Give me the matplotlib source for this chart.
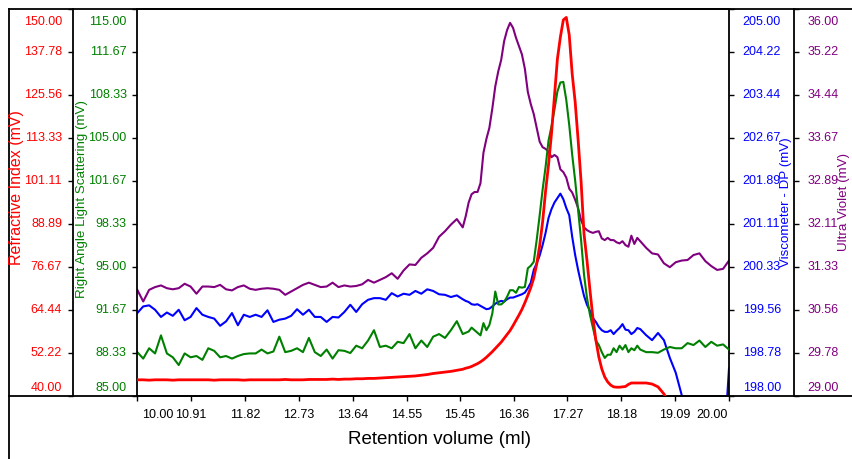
import numpy as np
import matplotlib
matplotlib.use("Agg")
import matplotlib.pyplot as plt
from matplotlib.transforms import ScaledTranslation
from matplotlib.lines import Line2D

plt.rcParams['font.family'] = ['Liberation Sans', 'DejaVu Sans']

# ---------------- data ----------------
x_seg1 = np.linspace(10.0, 15.5, 56)
x_seg2 = np.linspace(15.55, 18.45, 59)
x_seg3 = np.linspace(18.5, 20.0, 16)

red_1 = [44.6, 44.6, 44.5, 44.6, 44.6, 44.6, 44.5, 44.6, 44.6, 44.6,
         44.6, 44.6, 44.6, 44.5, 44.6, 44.6, 44.6, 44.6, 44.5, 44.6,
         44.6, 44.6, 44.6, 44.6, 44.6, 44.7, 44.6, 44.6, 44.6, 44.7,
         44.7, 44.7, 44.7, 44.8, 44.7, 44.8, 44.8, 44.9, 44.9, 45.0,
         45.0, 45.1, 45.2, 45.3, 45.4, 45.5, 45.6, 45.7, 45.9, 46.1,
         46.4, 46.6, 46.8, 47.0, 47.3, 47.6]
red_2 = [47.9, 48.1, 48.4, 48.8, 49.2, 49.7, 50.3, 51.0, 51.8,
         52.6, 53.5, 54.4, 55.3, 56.4, 57.5, 58.6, 60.0, 61.5, 63.0,
         64.6, 66.5, 68.6, 70.8, 73.5, 77.5, 82.7, 89.5, 98.2, 105.7,
         114.6, 125.4, 135.8, 142.0, 146.9, 147.6, 142.6, 131.5, 123.6, 112.8,
         101.0, 86.0, 78.5, 70.1, 62.2, 55.9, 51.1, 47.7, 45.4, 44.0,
         43.1, 42.6, 42.5, 42.5, 42.6, 42.7, 43.3, 43.7, 43.7, 43.7]
red_3 = [43.7, 43.7, 43.4, 42.6, 40.6, 37.5, np.nan, np.nan, np.nan, np.nan,
         np.nan, np.nan, np.nan, np.nan, np.nan, np.nan]

green_1 = [88.4, 87.9, 88.7, 88.3, 89.7, 88.3, 88.0, 87.4, 88.3, 88.0,
           88.1, 87.8, 88.7, 88.5, 88.0, 88.1, 87.9, 88.1, 88.25, 88.3,
           88.3, 88.6, 88.3, 88.45, 89.6, 88.4, 88.5, 88.7, 88.4, 89.5,
           88.4, 88.1, 88.6, 87.9, 88.55, 88.5, 88.33, 88.9, 88.7, 89.3,
           90.1, 88.8, 88.9, 88.7, 89.2, 89.1, 89.8, 88.7, 89.3, 88.8,
           89.6, 89.8, 89.5, 90.1, 90.8, 89.8]
green_2 = [89.9, 90.0, 90.3, 90.1, 89.9, 89.7, 90.65, 90.1, 90.5,
           91.4, 93.1, 92.1, 92.1, 92.3, 92.7, 93.2, 93.2, 93.0, 93.45,
           93.4, 93.45, 94.9, 95.1, 95.4, 97.1, 99.0, 101.0, 102.75, 104.8,
           105.9, 107.2, 108.6, 109.3, 109.35, 107.95, 106.0, 103.7, 101.7, 99.4,
           97.1, 94.4, 92.6, 91.3, 90.3, 89.3, 88.95, 88.4, 87.95, 88.2,
           88.2, 88.7, 88.4, 88.9, 88.6, 88.95, 88.4, 88.7, 88.55, 88.9]
green_3 = [88.6, 88.4, 88.4, 88.35, 88.6, 88.8, 88.7, 88.7, 89.1, 88.95,
           89.3, 88.8, 89.2, 88.9, 89.0, 88.6]

blue_1 = [199.50, 199.62, 199.64, 199.56, 199.43, 199.51, 199.45, 199.56, 199.37, 199.43,
          199.59, 199.47, 199.43, 199.40, 199.27, 199.35, 199.50, 199.28, 199.47, 199.43,
          199.47, 199.43, 199.55, 199.34, 199.38, 199.40, 199.45, 199.57, 199.47, 199.56,
          199.43, 199.43, 199.34, 199.43, 199.42, 199.52, 199.65, 199.52, 199.66, 199.74,
          199.77, 199.77, 199.74, 199.86, 199.80, 199.85, 199.83, 199.90, 199.85, 199.93,
          199.90, 199.84, 199.83, 199.79, 199.82, 199.75]
blue_2 = [199.72, 199.70, 199.66, 199.65, 199.66, 199.63, 199.60, 199.57, 199.58,
          199.62, 199.67, 199.70, 199.72, 199.71, 199.75, 199.78, 199.78, 199.80, 199.82,
          199.84, 199.87, 199.95, 200.05, 200.28, 200.40, 200.54, 200.73, 200.95, 201.22,
          201.38, 201.50, 201.58, 201.66, 201.56, 201.40, 201.27, 200.88, 200.55, 200.28,
          200.04, 199.81, 199.65, 199.54, 199.41, 199.34, 199.25, 199.19, 199.16, 199.16,
          199.19, 199.12, 199.18, 199.23, 199.30, 199.20, 199.19, 199.12, 199.16, 199.23]
blue_3 = [199.21, 199.10, 199.01, 199.14, 199.01, 198.69, 198.42, 198.02, 197.6, 197.4,
          197.3, 197.2, 197.0, 196.8, 196.8, 198.5]

purple_1 = [30.92, 30.71, 30.92, 30.97, 31.00, 30.95, 30.93, 30.95, 31.03, 30.98,
            30.85, 30.98, 30.98, 30.97, 31.01, 30.93, 30.91, 30.97, 31.00, 30.94,
            30.92, 30.94, 30.95, 30.94, 30.92, 30.83, 30.89, 30.95, 31.01, 31.05,
            31.01, 30.97, 30.98, 31.05, 30.97, 31.00, 30.98, 30.99, 31.02, 31.10,
            31.05, 31.10, 31.15, 31.22, 31.12, 31.27, 31.38, 31.37, 31.50, 31.58,
            31.68, 31.88, 31.98, 32.10, 32.20, 32.05]
purple_2 = [32.25, 32.50, 32.65, 32.69, 32.69, 32.85, 33.40, 33.65, 33.85,
            34.20, 34.60, 34.87, 35.08, 35.42, 35.62, 35.75, 35.66, 35.48, 35.33,
            35.18, 34.92, 34.50, 34.28, 34.10, 33.85, 33.60, 33.50, 33.47, 33.42,
            33.32, 33.36, 33.32, 33.10, 33.05, 32.95, 32.75, 32.68, 32.55, 32.40,
            32.18, 32.05, 32.00, 31.97, 31.95, 31.97, 31.98, 31.85, 31.82, 31.86,
            31.82, 31.82, 31.78, 31.76, 31.80, 31.73, 31.70, 31.90, 31.75, 31.86]
purple_3 = [31.80, 31.68, 31.58, 31.56, 31.40, 31.33, 31.42, 31.45, 31.46, 31.55,
            31.58, 31.44, 31.35, 31.28, 31.30, 31.45]

x_ticks = [10.00, 10.91, 11.82, 12.73, 13.64, 14.55, 15.45, 16.36, 17.27, 18.18, 19.09, 20.00]
red_ticks = [40.00, 52.22, 64.44, 76.67, 88.89, 101.11, 113.33, 125.56, 137.78, 150.00]
green_ticks = [85.00, 88.33, 91.67, 95.00, 98.33, 101.67, 105.00, 108.33, 111.67, 115.00]
blue_ticks = [198.00, 198.78, 199.56, 200.33, 201.11, 201.89, 202.67, 203.44, 204.22, 205.00]
purple_ticks = [29.00, 29.78, 30.56, 31.33, 32.11, 32.89, 33.67, 34.44, 35.22, 36.00]

labels = {
    'red': "Refractive Index (mV)",
    'green': "Right Angle Light Scattering (mV)",
    'blue': "Viscometer - DP (mV)",
    'purple': "Ultra Violet (mV)",
}
x_label = "Retention volume (ml)"

# ---------------- figure ----------------
W, H = 852, 459
fig = plt.figure(figsize=(W / 100, H / 100), dpi=100, facecolor='white')

L, R, T, B = 137.3, 729.0, 9.0, 396.0
rect = [L / W, 1 - B / H, (R - L) / W, (B - T) / H]

C_RED, C_GREEN, C_BLUE, C_PURPLE = '#ff0000', '#008000', '#0000ff', '#800080'

ax_p = fig.add_axes(rect)
ax_b = fig.add_axes(rect, sharex=ax_p)
ax_g = fig.add_axes(rect, sharex=ax_p)
ax_r = fig.add_axes(rect, sharex=ax_p)
for z, a in enumerate([ax_p, ax_b, ax_g, ax_r]):
    a.set_zorder(z + 1)
    a.patch.set_visible(False)
    for s in a.spines.values():
        s.set_visible(False)
        s.set_linewidth(1.3)
    a.tick_params(axis='x', which='both', bottom=False, top=False, labelbottom=False)
    a.set_xlim(10, 20)

def cat(a, b, c):
    return np.concatenate([np.array(a, float), np.array(b, float), np.array(c, float)])

xs = np.concatenate([x_seg1, x_seg2, x_seg3])
ax_p.plot(xs, cat(purple_1, purple_2, purple_3), color=C_PURPLE, lw=1.5)
ax_b.plot(xs, cat(blue_1, blue_2, blue_3), color=C_BLUE, lw=1.5)
ax_g.plot(xs, cat(green_1, green_2, green_3), color=C_GREEN, lw=1.5)
ax_r.plot(xs, cat(red_1, red_2, red_3), color=C_RED, lw=2.0)

ax_r.set_ylim(40, 150)
ax_g.set_ylim(85, 115)
ax_b.set_ylim(198, 205)
ax_p.set_ylim(29, 36)

tick_len = 3.6
# green (plot left)
ax_g.spines['left'].set_visible(True)
ax_g.spines['bottom'].set_visible(True)
ax_g.spines['top'].set_visible(True)
ax_g.set_yticks(green_ticks)
ax_g.tick_params(axis='y', direction='out', length=tick_len, width=1, labelleft=False)
ax_g.set_xticks(x_ticks)
ax_g.tick_params(axis='x', bottom=True, direction='out', length=tick_len, width=1, labelbottom=False)

# red (outer left)
ax_r.spines['left'].set_visible(True)
ax_r.spines['left'].set_position(('outward', 64 * 0.72))
ax_r.set_yticks(red_ticks)
ax_r.tick_params(axis='y', direction='out', length=tick_len, width=1, labelleft=False)

# blue (plot right)
ax_b.spines['right'].set_visible(True)
ax_b.yaxis.tick_right()
ax_b.set_yticks(blue_ticks)
ax_b.tick_params(axis='y', direction='out', length=tick_len, width=1, labelright=False)

# purple (outer right)
ax_p.spines['right'].set_visible(True)
ax_p.spines['right'].set_position(('outward', 65 * 0.72))
ax_p.yaxis.tick_right()
ax_p.set_yticks(purple_ticks)
ax_p.tick_params(axis='y', direction='out', length=tick_len, width=1, labelright=False)

FS = 9

def ylabels(ax, ticks, side, xoff_px, color):
    n = len(ticks)
    for i, t in enumerate(ticks):
        dy = 0
        if i == 0:
            dy = 8
        elif i == n - 1:
            dy = -13
        tr = ax.get_yaxis_transform() + ScaledTranslation(xoff_px / 100, dy / 100, fig.dpi_scale_trans)
        ax.text(0 if side == 'left' else 1, t, f"{t:.2f}", transform=tr,
                ha='right' if side == 'left' else 'left', va='center',
                color=color, fontsize=FS)

ylabels(ax_r, red_ticks, 'left', 62 - L, C_RED)
ylabels(ax_g, green_ticks, 'left', 126.7 - L, C_GREEN)
ylabels(ax_b, blue_ticks, 'right', 742.7 - R, C_BLUE)
ylabels(ax_p, purple_ticks, 'right', 807.3 - R, C_PURPLE)

n = len(x_ticks)
for i, t in enumerate(x_ticks):
    dx, ha = 0, 'center'
    if i == 0:
        dx, ha = 5, 'left'
    elif i == n - 1:
        dx, ha = -1, 'right'
    tr = ax_g.get_xaxis_transform() + ScaledTranslation(dx / 100, -19 / 100, fig.dpi_scale_trans)
    ax_g.text(t, 0, f"{t:.2f}", transform=tr, ha=ha, va='center', color='black', fontsize=FS)

# axis titles
def px(xp, yp):
    return xp / W, 1 - yp / H

fig.text(*px(16.7, 187.5), labels['red'], rotation=90, ha='center', va='center', color=C_RED, fontsize=11.5)
fig.text(*px(81.5, 198.5), labels['green'], rotation=90, ha='center', va='center', color=C_GREEN, fontsize=9.6)
fig.text(*px(786, 202), labels['blue'], rotation=90, ha='center', va='center', color=C_BLUE, fontsize=9.6)
fig.text(*px(844, 202), labels['purple'], rotation=90, ha='center', va='center', color=C_PURPLE, fontsize=9.6)
fig.text(*px(439.5, 440), x_label, ha='center', va='center', color='black', fontsize=13.5)

# frame lines
def fline(x0, y0, x1, y1):
    a0, b0 = px(x0, y0)
    a1, b1 = px(x1, y1)
    fig.add_artist(Line2D([a0, a1], [b0, b1], transform=fig.transFigure, color='black', lw=1.3))

fline(8.5, 9, 8.5, 459)
fline(8.5, 9, 852, 9)
fline(8.5, 396, 852, 396)

fig.savefig("out.png", dpi=100, facecolor='white')
